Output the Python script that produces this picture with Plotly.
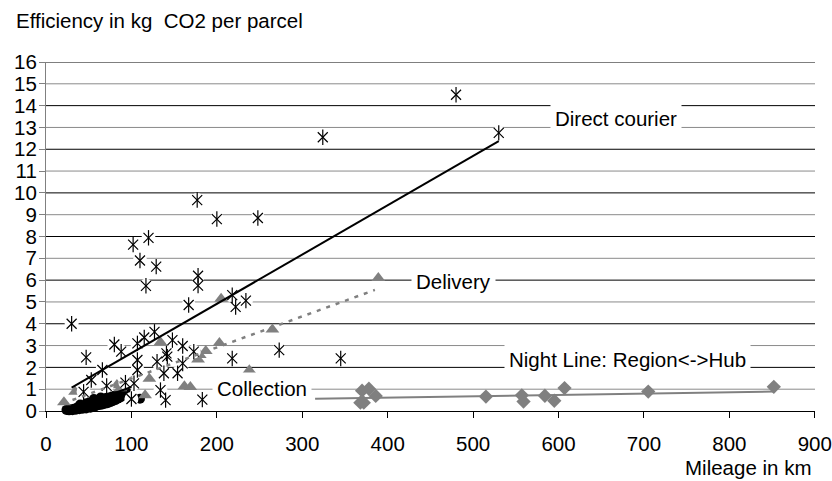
import plotly.graph_objects as go

# ---------------- data ----------------
direct_x = [30, 480, 324, 530, 177, 200, 248, 120, 102, 110, 129, 117, 178, 178, 167,
            218, 222, 234, 218, 273, 345, 183, 47, 80, 88, 107, 115, 127, 148, 160,
            173, 141, 107, 107, 130, 142, 160, 138, 154, 66, 53, 71, 44, 103, 100,
            134, 140, 93]
direct_y = [4.0, 14.5, 12.55, 12.75, 9.67, 8.8, 8.85, 7.94, 7.63, 6.9, 6.62, 5.74, 6.2, 5.75, 4.86,
            5.31, 4.77, 5.06, 2.41, 2.79, 2.41, 0.52, 2.46, 3.05, 2.72, 3.1, 3.37, 3.63, 3.25, 2.98,
            2.72, 2.64, 2.34, 1.88, 2.26, 2.49, 2.18, 1.73, 1.73, 1.88, 1.42, 1.15, 0.88, 1.27, 0.55,
            0.96, 0.5, 1.3]

delivery_x = [21, 34, 83, 87, 100, 116, 121, 134, 162, 169, 178, 180, 187, 203, 205, 238, 265, 389]
delivery_y = [0.4, 0.88, 1.19, 1.04, 1.34, 0.72, 1.48, 3.15, 1.13, 1.1, 2.36, 2.57, 2.75, 3.12, 5.15,
              1.87, 3.74, 6.1]

night_x = [368, 372, 370, 378, 386, 515, 557, 559, 584, 595, 607, 705, 852]
night_y = [0.38, 0.38, 0.93, 1.02, 0.69, 0.66, 0.72, 0.43, 0.70, 0.47, 1.05, 0.89, 1.11]

collection_x = [24, 27, 29, 31, 33, 35, 37, 39, 41, 43, 45, 47, 50, 52, 55, 58, 60, 63, 66, 69,
                72, 75, 78, 81, 84, 87, 90, 92, 95, 97, 101, 110, 36, 44, 52, 62, 70,
                40, 48, 56, 64, 74, 80, 86, 93]
collection_y = [0.05, 0.03, 0.08, 0.04, 0.1, 0.06, 0.12, 0.08, 0.14, 0.1, 0.16, 0.12, 0.18, 0.15,
                0.2, 0.22, 0.26, 0.28, 0.3, 0.33, 0.36, 0.4, 0.45, 0.5, 0.56, 0.62, 0.7, 0.78,
                1.12, 1.25, 1.34, 0.56, 0.15, 0.2, 0.3, 0.5, 0.6,
                0.3, 0.4, 0.55, 0.62, 0.68, 0.7, 0.8, 0.95]

# trend lines (end points)
direct_trend_x = [30, 530]
direct_trend_y = [1.07, 12.37]
delivery_trend_x = [20, 385]
delivery_trend_y = [0.35, 5.55]
night_trend_x = [315, 852]
night_trend_y = [0.56, 0.89]
collection_trend_x = [24, 100]
collection_trend_y = [0.02, 1.1]

y_ticks = list(range(0, 17))
x_ticks = list(range(0, 1000, 100))

labels = ["Direct courier", "Delivery", "Night Line: Region<->Hub", "Collection"]
label_x = [667, 477.5, 680.6, 253.4]
label_y = [13.43, 5.93, 2.34, 1.04]

# ---------------- styling ----------------
FONT = "Liberation Sans, Arial, sans-serif"
FS = 20.5
GRAY = "#808080"

fig = go.Figure()

fig.add_trace(go.Scatter(x=night_x, y=night_y, mode="markers", cliponaxis=False,
                         marker=dict(symbol="diamond", size=11, color=GRAY)))
fig.add_trace(go.Scatter(x=collection_x, y=collection_y, mode="markers", cliponaxis=False,
                         marker=dict(symbol="circle", size=10, color="black")))
fig.add_trace(go.Scatter(x=delivery_x, y=delivery_y, mode="markers", cliponaxis=False,
                         marker=dict(symbol="triangle-up", size=12, color=GRAY)))
# white backdrop of star markers
fig.add_trace(go.Scatter(x=direct_x, y=direct_y, mode="markers", cliponaxis=False,
                         marker=dict(symbol="circle", size=14, color="white")))
fig.add_trace(go.Scatter(x=direct_x, y=direct_y, mode="markers", cliponaxis=False,
                         marker=dict(symbol="x-thin-open", size=10, color="black",
                                     line=dict(color="black", width=1.2))))
fig.add_trace(go.Scatter(x=direct_x, y=direct_y, mode="markers", cliponaxis=False,
                         marker=dict(symbol="line-ns-open", size=11, color="black",
                                     line=dict(color="black", width=1.2))))

fig.add_trace(go.Scatter(x=collection_trend_x, y=collection_trend_y, mode="lines",
                         line=dict(color="black", width=2)))
fig.add_trace(go.Scatter(x=night_trend_x, y=night_trend_y, mode="lines",
                         line=dict(color=GRAY, width=2)))
fig.add_trace(go.Scatter(x=delivery_trend_x, y=delivery_trend_y, mode="lines",
                         line=dict(color=GRAY, width=2.5, dash="4px,6px")))
fig.add_trace(go.Scatter(x=direct_trend_x, y=direct_trend_y, mode="lines",
                         line=dict(color="black", width=2)))

# horizontal gridlines: even values black, odd values gray
shapes = []
for v in y_ticks[1:]:
    shapes.append(dict(type="line", xref="paper", yref="y", x0=0, x1=1, y0=v, y1=v,
                       layer="below",
                       line=dict(color="black" if v % 2 == 0 else "#8a8a8a", width=1)))

annotations = []
for t, ax, ay in zip(labels, label_x, label_y):
    annotations.append(dict(x=ax, y=ay, xref="x", yref="y", text=t, showarrow=False,
                            bgcolor="white", borderpad=4,
                            font=dict(family=FONT, size=FS, color="black")))
annotations.append(dict(x=-0.0416, y=1.1175, xref="paper", yref="paper",
                        text="Efficiency in kg\u00a0 CO2 per parcel", showarrow=False,
                        xanchor="left", yanchor="middle",
                        font=dict(family=FONT, size=FS, color="black")))
annotations.append(dict(x=0.9978, y=-0.1633, xref="paper", yref="paper",
                        text="Mileage in km", showarrow=False,
                        xanchor="right", yanchor="middle",
                        font=dict(family=FONT, size=FS, color="black")))

fig.update_layout(
    width=832, height=481,
    margin=dict(l=46, r=17, t=62, b=70, autoexpand=False),
    paper_bgcolor="white", plot_bgcolor="white",
    showlegend=False,
    font=dict(family=FONT, size=FS, color="black"),
    shapes=shapes,
    annotations=annotations,
    xaxis=dict(range=[0, 900.2], tickvals=x_ticks, showgrid=False, zeroline=False,
               automargin=False, ticklabeloverflow="allow",
               showline=True, linecolor="black", linewidth=1,
               ticks="outside", ticklen=6, tickcolor="black", ticklabelstandoff=8,
               tickfont=dict(family=FONT, size=FS, color="black")),
    yaxis=dict(range=[0, 16], tickvals=y_ticks, showgrid=False, zeroline=False,
               automargin=False,
               showline=True, linecolor=GRAY, linewidth=1,
               ticks="outside", ticklen=6, tickcolor=GRAY, ticklabelstandoff=-2,
               tickfont=dict(family=FONT, size=FS, color="black")),
)

fig.write_html("out.html", config={"displayModeBar": False},
               post_script="document.body.style.margin='0';document.body.style.overflow='hidden';")
